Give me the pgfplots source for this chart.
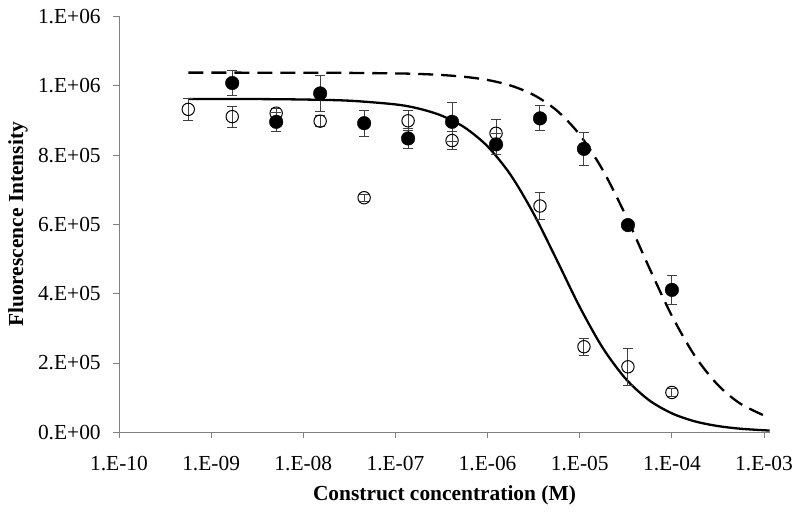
\documentclass[border=0pt]{standalone}
\usepackage{pgfplots}
\pgfplotsset{compat=1.18}
\usepackage{fontspec}
\setmainfont{Liberation Serif}
\definecolor{axgray}{gray}{0.5}
\definecolor{ebgray}{gray}{0.25}
\begin{document}
\fontsize{21.5}{24}\selectfont
\begin{tikzpicture}
\path[use as bounding box] (-119bp,-87.7bp) rectangle (681bp,432.3bp);
\begin{axis}[
  at={(0,0)}, anchor=south west,
  scale only axis, width=651bp, height=415.8bp,
  xmode=log, xmin=1e-10, xmax=1.16e-3,
  ymin=0, ymax=1.2e6,
  axis x line*=bottom, axis y line*=left,
  xtick={1e-10,1e-9,1e-8,1e-7,1e-6,1e-5,1e-4,1e-3},
  xticklabels={1.E-10,1.E-09,1.E-08,1.E-07,1.E-06,1.E-05,1.E-04,1.E-03},
  ytick={0,200000,400000,600000,800000,1000000,1200000},
  yticklabels={0.E+00,2.E+05,4.E+05,6.E+05,8.E+05,1.E+06,1.E+06},
  scaled y ticks=false,
  xminorticks=false, yminorticks=false,
  tick align=outside, major tick length=6bp,
  axis line style={draw=axgray, line width=0.9bp},
  every tick/.style={draw=axgray, line width=0.9bp},
  tick label style={font=\fontsize{21.5}{24}\selectfont},
  xticklabel style={yshift=-11bp},
  yticklabel style={xshift=-5bp},
  xlabel={\bfseries Construct concentration (M)},
  ylabel={\bfseries Fluorescence Intensity},
  label style={font=\fontsize{21.5}{24}\selectfont},
  xlabel style={at={(axis description cs:0.5,-0.1556)}, anchor=center, yshift=2bp},
  ylabel style={at={(axis description cs:-0.155,0.5)}, anchor=center},
  clip=false,
]
% fitted curve, open symbols (solid)
\addplot[black, line width=2.3bp, smooth] coordinates {
(5.645e-10,961900) (1e-9,961840) (3.162e-9,961700) (1e-8,960400) (3.162e-8,957000)
(1e-7,946300) (1.778e-7,934400) (3.162e-7,914000) (5.623e-7,879900)
(1e-6,825100) (1.778e-6,742900) (3.162e-6,630800) (5.623e-6,497700)
(1e-5,361700) (1.778e-5,243500) (3.162e-5,154000) (5.623e-5,93100)
(1e-4,54700) (1.778e-4,31500) (3.162e-4,18000) (5.623e-4,10200) (1.148e-3,5000)
};
% fitted curve, filled symbols (dashed)
\addplot[black, line width=2.3bp, smooth, dash pattern=on 15bp off 8bp] coordinates {
(5.645e-10,1038000) (1e-9,1037990) (1e-8,1037800) (3.162e-8,1037300)
(1e-7,1035800) (1.778e-7,1034200) (3.162e-7,1031200) (5.623e-7,1025900)
(1e-6,1016800) (1.778e-6,1000800) (3.162e-6,973600) (5.623e-6,928900)
(1e-5,858700) (1.778e-5,756800) (3.162e-5,625000) (5.623e-5,477200)
(1e-4,336000) (1.778e-4,220100) (3.162e-4,136400) (5.623e-4,81400) (1.148e-3,41500)
};
% filled circles
\addplot[only marks, mark=*, mark size=6.8bp, mark options={fill=black, draw=black},
  error bars/.cd, y dir=both, y explicit,
  error bar style={line width=1bp, ebgray},
  error mark options={rotate=90, mark size=5bp, line width=1bp, ebgray}]
  table[x=x, y=y, y error=e] {
x y e
1.694e-9 1008000 37000
5.081e-9 896000 27000
1.524e-8 978000 53000
4.572e-8 892000 38000
1.372e-7 848000 30000
4.115e-7 896000 56000
1.235e-6 831000 30000
3.704e-6 906000 36000
1.111e-5 818000 47000
3.333e-5 598000 10000
1.0e-4 411000 42000
};
% open circles
\addplot[only marks, mark=o, mark size=6.2bp, mark options={draw=black, line width=1bp},
  error bars/.cd, y dir=both, y explicit,
  error bar style={line width=1bp, ebgray},
  error mark options={rotate=90, mark size=5bp, line width=1bp, ebgray}]
  table[x=x, y=y, y error=e] {
x y e
5.645e-10 932000 31000
1.694e-9 911000 30000
5.081e-9 921000 14000
1.524e-8 898000 15000
4.572e-8 677000 10000
1.372e-7 899000 29000
4.115e-7 842000 25000
1.235e-6 863000 40000
3.704e-6 653000 38000
1.111e-5 247000 25000
3.333e-5 189000 53000
1.0e-4 115000 12000
};
\end{axis}
\end{tikzpicture}
\end{document}
